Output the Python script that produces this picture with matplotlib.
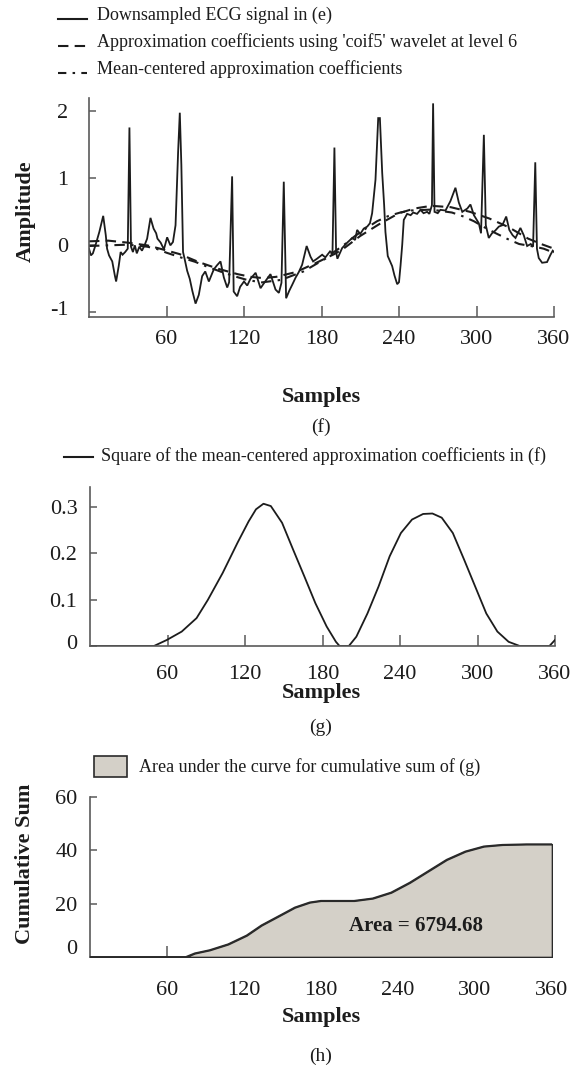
import matplotlib
matplotlib.use("Agg")
import matplotlib.pyplot as plt
from matplotlib.lines import Line2D
from matplotlib.patches import Rectangle
from matplotlib.transforms import ScaledTranslation

# ---------------------------------------------------------------- data
# (f) downsampled ECG trace: sample index / amplitude vertices
ecg_x = [0, 1.5, 3, 5, 8, 11, 13, 14, 15.5, 18, 20, 21, 23, 24.5, 26, 28, 30,
         31.3, 32.5, 34, 35.5, 37, 39, 41, 43, 45, 47.6, 50, 52, 53, 55.5, 58,
         60.5, 63, 65, 67, 69, 70.3, 71.5, 72.8, 74, 76, 78, 80, 82.5, 85, 87.6,
         90, 92.8, 96.6, 99, 101.8, 104.4, 107, 108.5, 110.8, 112, 114.7, 117,
         120, 122.5, 125, 129, 132.8, 136, 140.5, 144.4, 147, 149, 150.8, 152.6,
         155, 157.3, 160, 162.4, 165, 168.5, 171.5, 173.5, 176.5, 180.5, 183,
         186.6, 188.5, 190, 191.3, 192.3, 196, 199.9, 203.8, 206, 207.6, 210,
         212.7, 215.4, 217.5, 219.2, 221.8, 223.9, 225.2, 227, 228.5, 229.5,
         231.3, 234.7, 236.5, 238.6, 240, 241.2, 242.5, 243.7, 246.3, 249, 251,
         254, 256.6, 259, 261.8, 263.5, 265.5, 266.4, 267.5, 270, 272, 276,
         279.8, 283.7, 286.3, 289, 292.9, 295.3, 298, 301.8, 303.5, 305.7, 307.2,
         309.5, 312, 314.5, 317.3, 320, 323, 325.4, 328, 330.2, 334, 336.6,
         339.2, 342, 343.8, 345.5, 346.8, 348.2, 350.8, 354.6, 357.3, 359, 360]
ecg_y = [-0.05, -0.15, -0.12, 0.0, 0.2, 0.44, 0.15, -0.05, -0.15, -0.24, -0.45,
         -0.54, -0.31, -0.1, -0.14, -0.1, -0.05,
         1.76, -0.02, -0.1, 0.0, -0.12, -0.02, -0.08, 0.0, 0.1, 0.41, 0.25, 0.18,
         0.1, 0.04, -0.06,
         0.12, 0.0, 0.05, 0.3, 1.4, 1.98, 1.2, -0.1, -0.2, -0.38, -0.5, -0.68,
         -0.87, -0.74, -0.46,
         -0.39, -0.54, -0.36, -0.3, -0.24, -0.48, -0.63, -0.55, 1.03, -0.69,
         -0.76, -0.62,
         -0.54, -0.6, -0.5, -0.41, -0.64, -0.55, -0.43, -0.66, -0.71, -0.56, 0.95,
         -0.79,
         -0.68, -0.59, -0.48, -0.4, -0.29, -0.01, -0.17, -0.24, -0.2, -0.14,
         -0.18,
         -0.09, -0.12, 1.46, -0.1, -0.2, -0.04, 0.04, 0.11, 0.08, 0.23, 0.17,
         0.25, 0.28, 0.33, 0.48, 0.98, 1.9, 1.9, 1.08, 0.6, 0.2,
         -0.16, -0.31, -0.45, -0.58, -0.55, -0.3, 0.01, 0.38, 0.47, 0.45, 0.49,
         0.47, 0.53, 0.48, 0.5, 0.47, 0.6, 2.12, 0.5, 0.48, 0.53, 0.52,
         0.66, 0.86, 0.64, 0.5, 0.55, 0.61, 0.45, 0.33, 0.18, 1.65, 0.3,
         0.11, 0.18, 0.22, 0.28, 0.3, 0.43, 0.23, 0.15, 0.11, 0.26, 0.15,
         -0.01, 0.02, -0.02, 1.24, -0.05, -0.19, -0.26, -0.25, -0.14, -0.08, -0.1]

# (f) 'coif5' level-6 approximation and its mean-centred version
approx_x = [0, 15, 30, 45, 55, 70, 85, 100, 115, 125, 135, 145, 160, 175, 190,
            197, 210, 225, 240, 252, 265, 280, 295, 310, 325, 340, 350, 360]
approx_y = [0.06, 0.07, 0.04, 0.0, -0.05, -0.13, -0.25, -0.35, -0.43, -0.47,
            -0.49, -0.47, -0.40, -0.27, -0.13, -0.05, 0.14, 0.32, 0.48, 0.55,
            0.59, 0.57, 0.50, 0.40, 0.27, 0.10, 0.02, -0.05]
centered_x = [0, 15, 30, 45, 52, 60, 71, 82, 91, 103, 114, 123, 134, 149, 157,
              166, 174, 183, 190, 197, 206, 215, 223, 232, 241, 249, 265, 281,
              290, 298, 307, 315, 324, 333, 345, 352, 360]
centered_y = [-0.01, 0.0, 0.01, -0.02, -0.05, -0.11, -0.18, -0.245, -0.315,
              -0.40, -0.47, -0.52, -0.553, -0.515, -0.455, -0.39, -0.30, -0.20,
              -0.095, 0.0, 0.14, 0.26, 0.36, 0.44, 0.49, 0.52, 0.534, 0.49,
              0.43, 0.36, 0.26, 0.18, 0.095, 0.02, -0.02, -0.05, -0.11]

# (g) squared mean-centred coefficients
square_x = [0, 49.5, 59.5, 71, 82.5, 91.2, 102.7, 114.2, 122.8, 128.5, 134.3,
            140, 148.7, 157.3, 165.9, 174.5, 183.2, 190.4, 193.2, 200.4, 206.2,
            214.8, 223.4, 232, 240.7, 249.3, 257.9, 265.1, 272.3, 280.9, 289.6,
            298.2, 306.8, 315.4, 324.1, 332.7, 355.7, 360]
square_y = [0, 0, 0.013, 0.031, 0.06, 0.099, 0.157, 0.222, 0.268, 0.294, 0.306,
            0.301, 0.265, 0.207, 0.15, 0.092, 0.042, 0.009, 0, 0, 0.02, 0.07,
            0.128, 0.193, 0.243, 0.272, 0.284, 0.285, 0.276, 0.243, 0.186,
            0.128, 0.07, 0.031, 0.009, 0, 0, 0.013]

# (h) cumulative sum of (g)
cum_x = [0, 74.5, 81.6, 93.2, 107.6, 122, 133.6, 148, 159.6, 171.2, 179.8,
         205.8, 220.2, 234.6, 249.1, 263.5, 277.9, 292.4, 306.8, 321.2, 340, 360]
cum_y = [0, 0, 1.4, 2.6, 4.8, 8.1, 11.9, 15.6, 18.6, 20.5, 21.1, 21.1, 22.0,
         24.2, 27.9, 32.2, 36.5, 39.6, 41.5, 42.1, 42.3, 42.3]
area_label = "Area = 6794.68"

x_ticks = [60, 120, 180, 240, 300, 360]
f_yticks = [-1, 0, 1, 2]
g_yticks = [0, 0.1, 0.2, 0.3]
g_yticklabels = ["0", "0.1", "0.2", "0.3"]
h_yticks = [0, 20, 40, 60]

legend_f = ["Downsampled ECG signal in (e)",
            "Approximation coefficients using 'coif5' wavelet at level 6",
            "Mean-centered approximation coefficients"]
legend_g = "Square of the mean-centered approximation coefficients in (f)"
legend_h = "Area under the curve for cumulative sum of (g)"

# ---------------------------------------------------------------- style
plt.rcParams['font.family'] = ['Liberation Serif', 'DejaVu Serif']
W, H, DPI = 586, 1068, 100
INK = '#1c1c1c'
AXIS = '#5a5a5a'
FILL = '#d4d0c8'

fig = plt.figure(figsize=(W / DPI, H / DPI), dpi=DPI)


def fxy(x, y):
    return x / W, 1 - y / H


def add_axes_px(left, top, right, bottom):
    return fig.add_axes([left / W, 1 - bottom / H, (right - left) / W,
                         (bottom - top) / H])


def style_axes(ax, xpad, ypad):
    for s in ('top', 'right'):
        ax.spines[s].set_visible(False)
    for s in ('left', 'bottom'):
        ax.spines[s].set_color(AXIS)
        ax.spines[s].set_linewidth(1.2)
    ax.tick_params(axis='x', direction='in', length=8, width=1.1, color=AXIS,
                   labelsize=16, labelcolor=INK, pad=xpad)
    ax.tick_params(axis='y', direction='in', length=5, width=1.1, color=AXIS,
                   labelsize=16, labelcolor=INK, pad=ypad)
    ax.set_xlim(0, 360)
    ax.set_xticks(x_ticks)
    ax.set_xticklabels([str(t) for t in x_ticks])


def raise_bottom_label(ax, pts):
    lab = ax.yaxis.get_major_ticks()[0].label1
    lab.set_transform(lab.get_transform() +
                      ScaledTranslation(0, pts / 72, fig.dpi_scale_trans))


# ---------------------------------------------------------------- (f)
ax_f = add_axes_px(89, 98, 554, 317)
style_axes(ax_f, xpad=9, ypad=15)
ax_f.plot(ecg_x, ecg_y, color=INK, lw=1.3, solid_joinstyle='miter')
ax_f.plot(approx_x, approx_y, color=INK, lw=1.5, dashes=(5, 3))
ax_f.plot(centered_x, centered_y, color=INK, lw=1.5, dashes=(5, 3, 1.2, 3))
ax_f.set_ylim(-1.07, 2.2)
ax_f.set_yticks(f_yticks)
ax_f.set_yticklabels([str(t) for t in f_yticks])

styles = [dict(ls='-'), dict(dashes=(5, 3)), dict(dashes=(4, 3, 1.2, 3))]
for i, (txt, st) in enumerate(zip(legend_f, styles)):
    yrow = 15 + i * 27
    (x0, y0), (x1, _) = fxy(58, yrow + 4), fxy(87, yrow + 4)
    fig.add_artist(Line2D([x0, x1], [y0, y0], transform=fig.transFigure,
                          color=INK, lw=1.5, **st))
    tx, ty = fxy(97, yrow)
    fig.text(tx, ty, txt, fontsize=13, color=INK, va='center', ha='left')

fig.text(*fxy(26, 211), "Amplitude", rotation=90, fontsize=16,
         fontweight='bold', color=INK, ha='center', va='center')
fig.text(*fxy(321, 397), "Samples", fontsize=16, fontweight='bold',
         color=INK, ha='center', va='center')
fig.text(*fxy(321, 427), "(f)", fontsize=14, color=INK, ha='center',
         va='center')

# ---------------------------------------------------------------- (g)
ax_g = add_axes_px(90, 487, 555, 646)
style_axes(ax_g, xpad=14, ypad=9)
ax_g.plot(square_x, square_y, color=INK, lw=1.3)
ax_g.set_ylim(0, 0.342)
ax_g.set_yticks(g_yticks)
ax_g.set_yticklabels(g_yticklabels)

(x0, y0), (x1, _) = fxy(64, 457), fxy(93, 457)
fig.add_artist(Line2D([x0, x1], [y0, y0], transform=fig.transFigure,
                      color=INK, lw=1.5))
fig.text(*fxy(101, 456), legend_g, fontsize=13, color=INK, ha='left',
         va='center')
fig.text(*fxy(321, 693), "Samples", fontsize=16, fontweight='bold',
         color=INK, ha='center', va='center')
fig.text(*fxy(321, 727), "(g)", fontsize=14, color=INK, ha='center',
         va='center')

# ---------------------------------------------------------------- (h)
ax_h = add_axes_px(90, 797, 552, 957)
style_axes(ax_h, xpad=17, ypad=9)
ax_h.fill_between(cum_x, cum_y, 0, facecolor=FILL, edgecolor='#2a2a2a',
                  lw=1.2, zorder=3)
ax_h.plot(cum_x, cum_y, color='#2a2a2a', lw=1.2, zorder=3.1)
ax_h.set_ylim(0, 60)
ax_h.set_yticks(h_yticks)
ax_h.set_yticklabels([str(t) for t in h_yticks])
ax_h.text(254, 11.6, area_label, fontsize=15, fontweight='bold', color=INK,
          ha='center', va='center', zorder=5)

rx, ry = fxy(94, 777)
fig.add_artist(Rectangle((rx, ry), 33 / W, 21 / H, transform=fig.transFigure,
                         facecolor=FILL, edgecolor='#2a2a2a', lw=1.2))
fig.text(*fxy(139, 767), legend_h, fontsize=13, color=INK, ha='left',
         va='center')
fig.text(*fxy(25, 864), "Cumulative Sum", rotation=90, fontsize=16,
         fontweight='bold', color=INK, ha='center', va='center')
fig.text(*fxy(321, 1017), "Samples", fontsize=16, fontweight='bold',
         color=INK, ha='center', va='center')
fig.text(*fxy(321, 1056), "(h)", fontsize=14, color=INK, ha='center',
         va='center')

fig.canvas.draw()
raise_bottom_label(ax_f, 3)
raise_bottom_label(ax_g, 3)
raise_bottom_label(ax_h, 7)

fig.savefig("out.png", dpi=DPI, facecolor='white')
